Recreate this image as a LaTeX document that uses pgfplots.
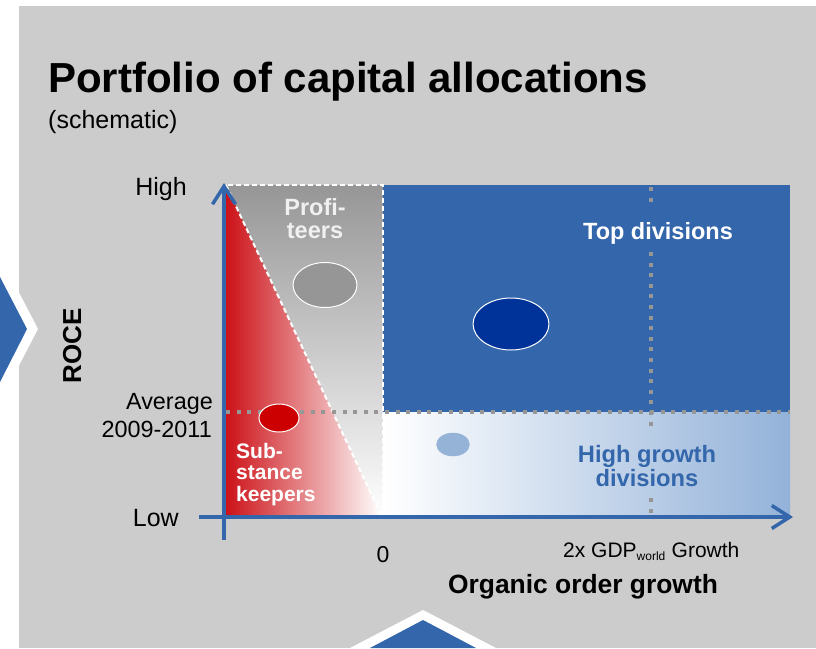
\documentclass[border=0pt]{standalone}
\usepackage{fontspec}
\setmainfont{Liberation Sans}
\usepackage{pgfplots}
\pgfplotsset{compat=1.18}
\usetikzlibrary{arrows.meta}

\definecolor{panel}{RGB}{204,204,204}
\definecolor{axblue}{RGB}{51,102,170}
\definecolor{darkblue}{RGB}{0,51,153}
\definecolor{lightblue}{RGB}{149,179,215}
\definecolor{fadeblue}{RGB}{147,178,217}
\definecolor{redish}{RGB}{204,18,24}
\definecolor{dotred}{RGB}{204,0,0}
\definecolor{dotgrey}{RGB}{150,150,150}
\definecolor{profgrey}{RGB}{150,150,150}

\newcommand{\fs}[1]{\fontsize{#1}{#1}\selectfont}

\begin{document}
\begin{tikzpicture}
\begin{axis}[
  width=816pt, height=648pt, scale only axis, hide axis,
  xmin=0, xmax=816, ymin=0, ymax=648, y dir=reverse,
]
% page and panel
\addplot[fill=white, draw=none] coordinates {(0,0) (816,0) (816,648) (0,648)};
\addplot[fill=panel, draw=none] coordinates {(19,6) (816,6) (816,648) (19,648)};

% chevrons
\addplot[fill=white, draw=none] coordinates {(0,256) (38,329) (0,402)};
\addplot[fill=axblue, draw=none] coordinates {(0,277) (27,329) (0,382)};
\addplot[fill=white, draw=none] coordinates {(423,610) (350,648) (496,648)};
\addplot[fill=axblue, draw=none] coordinates {(423,620) (370,648) (476,648)};

% quadrants
\addplot[fill=white, draw=none] coordinates {(226,185) (790,185) (790,517) (226,517)};
\addplot[top color=profgrey, bottom color=white, draw=none] coordinates {(226,185) (383,185) (383,517) (226,517)};
\addplot[left color=redish, right color=white, draw=none] coordinates {(226,185) (382,517) (226,517)};
\addplot[left color=white, right color=fadeblue, draw=none] coordinates {(383,412) (790,412) (790,517) (383,517)};
\addplot[fill=axblue, draw=none] coordinates {(383,185) (790,185) (790,412) (383,412)};

% white dashed borders
\addplot[white, line width=2pt, dash pattern=on 5pt off 3pt] coordinates {(228,185) (383,185) (383,517)};
\addplot[white, line width=2pt, dash pattern=on 5pt off 3pt] coordinates {(226,185) (382,517)};

% grey dotted reference lines
\addplot[dotgrey, line width=3.5pt, dash pattern=on 4pt off 6.6pt] coordinates {(226,412) (790,412)};
\addplot[dotgrey, line width=3.5pt, dash pattern=on 4pt off 6.6pt] coordinates {(651,187) (651,208)};
\addplot[dotgrey, line width=3.5pt, dash pattern=on 4pt off 6.6pt] coordinates {(651,252) (651,432)};
\addplot[dotgrey, line width=3.5pt, dash pattern=on 4pt off 6.6pt] coordinates {(651,498) (651,515)};

% portfolio bubbles
\addplot[only marks, mark=*, mark size=22.5pt, mark options={xscale=1.42, fill=profgrey, draw=white, line width=1pt}] coordinates {(325,285)};
\addplot[only marks, mark=*, mark size=26pt, mark options={xscale=1.46, fill=darkblue, draw=white, line width=1pt}] coordinates {(511,324)};
\addplot[only marks, mark=*, mark size=14pt, mark options={xscale=1.43, fill=dotred, draw=white, line width=1pt}] coordinates {(279,418)};
\addplot[only marks, mark=*, mark size=11.5pt, mark options={xscale=1.43, fill=lightblue, draw=lightblue, line width=0.5pt}] coordinates {(453,444.5)};

% axes
\addplot[axblue, line width=3.5pt, -{Straight Barb[length=18pt, width=23pt]}] coordinates {(224,540) (224,183)};
\addplot[axblue, line width=3.5pt, -{Straight Barb[length=18pt, width=23pt]}] coordinates {(199,517) (793,517)};

% texts
\node[anchor=base west, inner sep=0pt] at (48,92) {\fs{42}\bfseries Portfolio of capital allocations};
\node[anchor=base west, inner sep=0pt] at (48,128) {\fs{25}(schematic)};
\node[anchor=base east, inner sep=0pt] at (187,195) {\fs{25}High};
\node[anchor=base east, inner sep=0pt] at (179,526) {\fs{25}Low};
\node[anchor=base east, inner sep=0pt] at (213,409) {\fs{23.4}Average};
\node[anchor=base east, inner sep=0pt] at (212,437) {\fs{23.4}2009-2011};
\node[anchor=base, rotate=90, inner sep=0pt] at (81,345.5) {\fs{26}\bfseries ROCE};
\node[anchor=base, inner sep=0pt] at (383,562) {\fs{23}0};
\node[anchor=base west, inner sep=0pt] at (563,557) {\fs{21}2x GDP\textsubscript{\fs{12}world} Growth};
\node[anchor=base, inner sep=0pt] at (583,593) {\fs{26.4}\bfseries Organic order growth};

\node[anchor=base, inner sep=0pt, text=white!94!black] at (315,215) {\fs{23.5}\bfseries Profi-};
\node[anchor=base, inner sep=0pt, text=white!94!black] at (315,238) {\fs{23.5}\bfseries teers};
\node[anchor=base, inner sep=0pt, text=white] at (658,239) {\fs{23.5}\bfseries Top divisions};
\node[anchor=base west, inner sep=0pt, text=white] at (236,458) {\fs{21}\bfseries Sub-};
\node[anchor=base west, inner sep=0pt, text=white] at (236,479.5) {\fs{21}\bfseries stance};
\node[anchor=base west, inner sep=0pt, text=white] at (236,501) {\fs{21}\bfseries keepers};
\node[anchor=base, inner sep=0pt, text=axblue] at (647,462) {\fs{23.7}\bfseries High growth};
\node[anchor=base, inner sep=0pt, text=axblue] at (647,486) {\fs{23.7}\bfseries divisions};
\end{axis}
\end{tikzpicture}
\end{document}
